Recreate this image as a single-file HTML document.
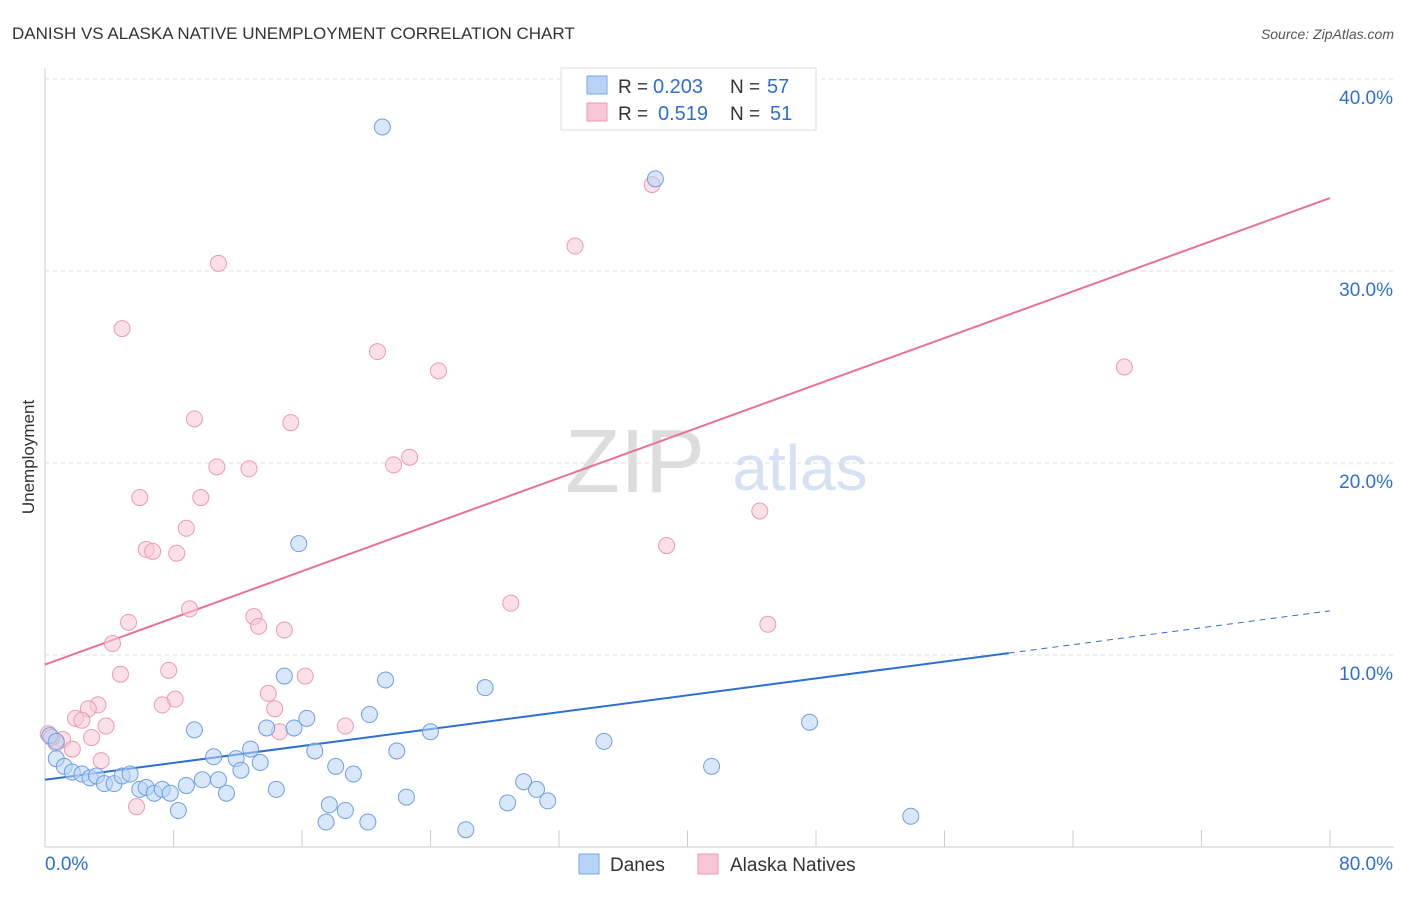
<!DOCTYPE html>
<html><head><meta charset="utf-8"><style>
body{margin:0;background:#fff;font-family:"Liberation Sans",sans-serif;}
svg text{font-family:"Liberation Sans",sans-serif;}
</style></head><body>
<svg id="chart" width="1406" height="892" xmlns="http://www.w3.org/2000/svg">
<text x="12" y="39" font-size="17" fill="#333">DANISH VS ALASKA NATIVE UNEMPLOYMENT CORRELATION CHART</text>
<text x="1394" y="39" font-size="14" fill="#555" font-style="italic" text-anchor="end">Source: ZipAtlas.com</text>
<text x="34" y="457" font-size="17" fill="#333" transform="rotate(-90 34 457)" text-anchor="middle">Unemployment</text>
<text x="635" y="492" font-size="90" fill="#ddd" font-family="Liberation Serif" text-anchor="middle">ZIP</text>
<text x="800" y="490" font-size="64" fill="#d6e2f3" text-anchor="middle">atlas</text>
<g id="grid"></g><g id="axes"></g><g id="lines"></g><g id="pts"></g>
<g>
<rect x="561" y="68" width="255" height="62" fill="#fff" stroke="#ddd"/>
<rect x="587" y="76" width="20" height="18" fill="#b8d3f5" stroke="#7aa7e6"/>
<rect x="587" y="103" width="20" height="18" fill="#f9c6d5" stroke="#ec9ab4"/>
<text x="618" y="93" font-size="19" fill="#333">R =</text>
<text x="653" y="93" font-size="20" fill="#2f6fd0">0.203</text>
<text x="730" y="93" font-size="19" fill="#333">N =</text>
<text x="767" y="93" font-size="20" fill="#2f6fd0">57</text>
<text x="618" y="120" font-size="19" fill="#333">R =</text>
<text x="658" y="120" font-size="20" fill="#2f6fd0">0.519</text>
<text x="730" y="120" font-size="19" fill="#333">N =</text>
<text x="770" y="120" font-size="20" fill="#2f6fd0">51</text>
</g>
<g>
<rect x="579" y="854" width="20" height="20" fill="#b8d3f5" stroke="#7aa7e6"/>
<text x="610" y="871" font-size="19" fill="#333">Danes</text>
<rect x="698" y="854" width="20" height="20" fill="#f9c6d5" stroke="#ec9ab4"/>
<text x="730" y="871" font-size="19" fill="#333">Alaska Natives</text>
</g>
</svg>
<script>
const yTicks=[10,20,30,40];
const yTickLabels=["10.0%","20.0%","30.0%","40.0%"];
const danesX=[21.0,38.0,15.8,14.9,21.2,27.4,20.2,47.6,9.3,13.8,15.5,16.3,24.0,34.8,0.3,0.7,12.8,16.8,21.9,10.5,11.9,13.4,0.7,1.2,1.7,2.3,2.8,3.2,3.7,4.3,4.8,5.3,12.2,18.1,19.2,41.5,8.8,9.8,10.8,11.3,14.4,5.9,6.3,6.8,7.3,7.8,29.8,30.6,22.5,31.3,17.7,18.7,28.8,8.3,17.5,20.1,26.2,53.9];
const danesY=[37.5,34.8,15.8,8.9,8.7,8.3,6.9,6.5,6.1,6.2,6.2,6.7,6.0,5.5,5.8,5.5,5.1,5.0,5.0,4.7,4.6,4.4,4.6,4.2,3.9,3.8,3.6,3.7,3.3,3.3,3.7,3.8,4.0,4.2,3.8,4.2,3.2,3.5,3.5,2.8,3.0,3.0,3.1,2.8,3.0,2.8,3.4,3.0,2.6,2.4,2.2,1.9,2.3,1.9,1.3,1.3,0.9,1.6];
const alaskaX=[37.8,33.0,10.8,4.8,20.7,24.5,67.2,9.3,15.3,10.7,12.7,21.7,22.7,5.9,9.7,44.5,8.8,6.3,6.7,8.2,38.7,9.0,29.0,5.2,13.0,13.3,14.9,45.0,4.2,7.7,4.7,16.2,13.9,8.1,7.3,3.3,2.7,1.9,2.3,3.8,18.7,14.3,14.6,2.9,0.2,1.1,0.7,1.7,3.5,5.7,0.4];
const alaskaY=[34.5,31.3,30.4,27.0,25.8,24.8,25.0,22.3,22.1,19.8,19.7,19.9,20.3,18.2,18.2,17.5,16.6,15.5,15.4,15.3,15.7,12.4,12.7,11.7,12.0,11.5,11.3,11.6,10.6,9.2,9.0,8.9,8.0,7.7,7.4,7.4,7.2,6.7,6.6,6.3,6.3,7.2,6.0,5.7,5.9,5.6,5.4,5.1,4.5,2.1,5.7];
const danesLine=[3.5,12.3];
const alaskaLine=[9.5,33.8];
const X=v=>45+v*(1285/80), Y=v=>847-v*19.2;
const NS="http://www.w3.org/2000/svg";
function mk(tag,attrs,parent){const e=document.createElementNS(NS,tag);for(const k in attrs)e.setAttribute(k,attrs[k]);document.getElementById(parent).appendChild(e);return e;}
yTicks.forEach((t,i)=>{
 const g=mk('line',{x1:45,x2:1394,y1:Y(t),y2:Y(t),stroke:'#ddd','stroke-dasharray':'4,4'},'grid');
 
 
 const l=mk('text',{x:1393,y:Y(t)+25,'font-size':19,fill:'#2f6fd0','text-anchor':'end'},'grid');
 l.textContent=yTickLabels[i];
 
 
});
const ax=mk('line',{x1:45,x2:1394,y1:847,y2:847,stroke:'#ccc'},'axes');


const ay=mk('line',{x1:45,x2:45,y1:68,y2:847,stroke:'#ccc'},'axes');


for(let i=0;i<=10;i++){const t=mk('line',{x1:X(i*8),x2:X(i*8),y1:830,y2:847,stroke:'#ccc'},'axes');
 
 }
const xl0=mk('text',{x:45,y:870,'font-size':19,fill:'#2f6fd0'},'axes');xl0.textContent='0.0%';


const xl1=mk('text',{x:1393,y:870,'font-size':19,fill:'#2f6fd0','text-anchor':'end'},'axes');xl1.textContent='80.0%';


function dot(xs,ys,fill,stroke,name){xs.forEach((x,i)=>{const c=mk('circle',{cx:X(x),cy:Y(ys[i]),r:8,fill:fill,'fill-opacity':0.55,stroke:stroke,'stroke-width':1},'pts');
 
 });}
dot(alaskaX,alaskaY,'#f9c6d5','#ec9ab4','alaska-point');
dot(danesX,danesY,'#b8d3f5','#6f9fe0','danes-point');
const bY=x=>danesLine[0]+(danesLine[1]-danesLine[0])*x/80;
const b1=mk('line',{x1:X(0),y1:Y(bY(0)),x2:X(60),y2:Y(bY(60)),stroke:'#2f6fd0','stroke-width':2},'lines');


const b2=mk('line',{x1:X(60),y1:Y(bY(60)),x2:X(80),y2:Y(bY(80)),stroke:'#2f6fd0','stroke-width':1,'stroke-dasharray':'6,5'},'lines');


const p1=mk('line',{x1:X(0),y1:Y(alaskaLine[0]),x2:X(80),y2:Y(alaskaLine[1]),stroke:'#e8709a','stroke-width':2},'lines');


</script>
</body></html>
